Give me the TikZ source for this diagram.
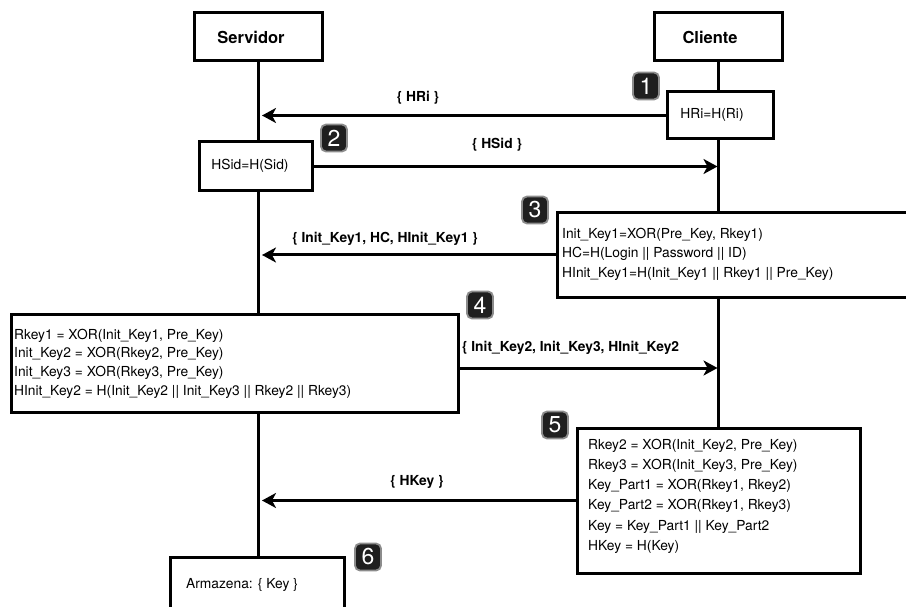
\documentclass[tikz,border=0pt]{standalone}
\usepackage{fontspec}
\setmainfont{TeX Gyre Heros}
\usetikzlibrary{arrows.meta}
\begin{document}
\begin{tikzpicture}[x=1pt,y=-1pt,
  box/.style={draw, line width=3pt, rectangle, inner sep=0pt},
  life/.style={line width=3pt},
  msg/.style={line width=3pt, -{Stealth[length=14pt,width=15pt,inset=4pt]}},
  lbl/.style={font=\bfseries\fontsize{13.8}{16}\selectfont, inner sep=0pt},
  ttl/.style={font=\bfseries\fontsize{16.5}{18}\selectfont, inner sep=0pt},
  txt/.style={font=\fontsize{13.8}{16}\selectfont, inner sep=0pt},
  blk/.style={anchor=north west, align=left, inner sep=0pt},
  badge/.style={draw=black!45, line width=1.8pt, fill=black!88, rounded corners=5pt,
    minimum width=26pt, minimum height=27pt, inner sep=0pt, text=white,
    font=\fontsize{23}{23}\selectfont}]
\useasboundingbox (0,0) rectangle (906,607);
% participant boxes
\node[box, minimum width=128pt, minimum height=48pt] (serv) at (258,37) {};
\node[ttl] (servtxt) at (251,37) {Servidor};
\node[box, minimum width=128pt, minimum height=48pt] (cli) at (718.5,37) {};
\node[ttl] (clitxt) at (710,37) {Cliente};
% step boxes
\node[box, minimum width=106pt, minimum height=47pt] (hri) at (720,115.5) {};
\node[txt] (hritxt) at (712,115) {HRi=H(Ri)};
\node[box, minimum width=113pt, minimum height=49pt] (hsid) at (255.5,166.5) {};
\node[txt] (hsidtxt) at (250,166) {HSid=H(Sid)};
\node[box, minimum width=360pt, minimum height=84pt] (b3) at (737,255) {};
\node[blk, font=\fontsize{13.8}{19.5}\selectfont] (b3txt) at (562,227.5) {Init\_Key1=XOR(Pre\_Key, Rkey1)\\HC=H(Login || Password || ID)\\HInit\_Key1=H(Init\_Key1 || Rkey1 || Pre\_Key)};
\node[box, minimum width=447pt, minimum height=98pt] (b4) at (234.5,363) {};
\node[blk, font=\fontsize{13.8}{18.8}\selectfont] (b4txt) at (14,328.5) {Rkey1 = XOR(Init\_Key1, Pre\_Key)\\Init\_Key2 = XOR(Rkey2, Pre\_Key)\\Init\_Key3 = XOR(Rkey3, Pre\_Key)\\HInit\_Key2 = H(Init\_Key2 || Init\_Key3 || Rkey2 || Rkey3)};
\node[box, minimum width=283pt, minimum height=145pt] (b5) at (718.5,500.5) {};
\node[blk, font=\fontsize{13.8}{20.3}\selectfont] (b5txt) at (588,438.5) {Rkey2 = XOR(Init\_Key2, Pre\_Key)\\Rkey3 = XOR(Init\_Key3, Pre\_Key)\\Key\_Part1 = XOR(Rkey1, Rkey2)\\Key\_Part2 = XOR(Rkey1, Rkey3)\\Key = Key\_Part1 || Key\_Part2\\HKey = H(Key)};
\node[box, minimum width=174pt, minimum height=66pt] (arm) at (257,590) {};
\node[txt] (armtxt) at (242,585) {Armazena: \{ Key \}};
% lifelines
\draw[life] (serv.south) -- (serv.south |- hsid.north);
\draw[life] (hsid.south -| serv.south) -- (serv.south |- b4.north);
\draw[life] (b4.south -| serv.south) -- (serv.south |- arm.north);
\draw[life] (cli.south) -- (cli.south |- hri.north);
\draw[life] (hri.south -| cli.south) -- (cli.south |- b3.north);
\draw[life] (b3.south -| cli.south) -- (cli.south |- b5.north);
% messages
\draw[msg, shorten >=4pt] (hri.west) -- (hri.west -| serv.south);
\draw[msg, shorten >=1pt] (hsid.east) -- (hsid.east -| cli.south);
\draw[msg, shorten >=4pt] (b3.west) -- (b3.west -| serv.south);
\draw[msg, shorten >=1pt] ([yshift=-5pt]b4.east) -- ([yshift=-5pt]b4.east -| cli.south);
\draw[msg, shorten >=4pt] (b5.west) -- (b5.west -| serv.south);
% labels
\node[lbl] (l1) at (418,98) {\{ HRi \}};
\node[lbl] (l2) at (497,145) {\{ HSid \}};
\node[lbl] (l3) at (385,239) {\{ Init\_Key1, HC, HInit\_Key1 \}};
\node[lbl, anchor=west] (l4) at (462,348) {\{ Init\_Key2, Init\_Key3, HInit\_Key2};
\node[lbl] (l5) at (417,482) {\{ HKey \}};
% badges
\node[badge] (n1) at (646,86) {1};
\node[badge] (n2) at (334,138) {2};
\node[badge] (n3) at (535,210) {3};
\node[badge] (n4) at (480,305) {4};
\node[badge] (n5) at (555,425) {5};
\node[badge] (n6) at (368,557) {6};
\end{tikzpicture}
\end{document}
